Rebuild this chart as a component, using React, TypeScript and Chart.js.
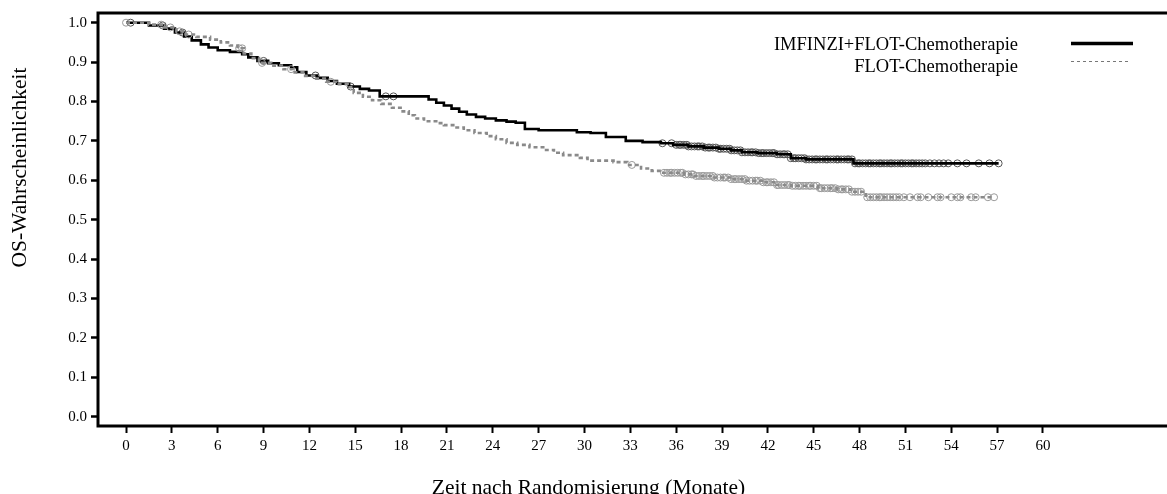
import React, { useEffect, useRef } from 'react';
import { Chart, registerables } from 'chart.js';

Chart.register(...registerables);

const X_TICKS = [0, 3, 6, 9, 12, 15, 18, 21, 24, 27, 30, 33, 36, 39, 42, 45, 48, 51, 54, 57, 60];
const Y_TICKS = [0, 0.1, 0.2, 0.3, 0.4, 0.5, 0.6, 0.7, 0.8, 0.9, 1.0];
const SERIES_NAMES = ['IMFINZI+FLOT-Chemotherapie', 'FLOT-Chemotherapie'];
const X_TITLE = 'Zeit nach Randomisierung (Monate)';
const Y_TITLE = 'OS-Wahrscheinlichkeit';

// IMFINZI + FLOT (solid black)
const IMF_TIMES = [0, 1.5, 2.5, 3.2, 3.8, 4.3, 4.9, 5.4, 6.0, 6.8, 7.6, 8.0, 8.6, 9.3, 10.0, 10.8, 11.2, 11.8, 12.5, 13.2, 13.8, 14.6, 15.3, 15.9, 16.6, 19.8, 20.3, 20.8, 21.3, 21.8, 22.3, 22.9, 23.5, 24.2, 24.9, 25.5, 26.1, 27.0, 29.5, 30.4, 31.4, 32.7, 33.8, 35.0, 35.8, 36.8, 37.8, 38.8, 39.6, 40.3, 41.3, 42.6, 43.5, 44.5, 47.6, 57.1];
const IMF_SURV = [1.0, 0.993, 0.985, 0.975, 0.965, 0.955, 0.945, 0.937, 0.930, 0.926, 0.920, 0.912, 0.903, 0.897, 0.892, 0.887, 0.875, 0.866, 0.860, 0.852, 0.845, 0.838, 0.832, 0.828, 0.813, 0.805, 0.797, 0.790, 0.782, 0.774, 0.767, 0.761, 0.757, 0.752, 0.749, 0.746, 0.730, 0.727, 0.722, 0.720, 0.710, 0.700, 0.697, 0.694, 0.690, 0.686, 0.683, 0.680, 0.676, 0.671, 0.669, 0.666, 0.656, 0.653, 0.643, 0.643];
const IMF_CENSOR = [0.3, 2.4, 3.7, 9.0, 12.4, 14.7, 17.0, 17.5, 35.1, 35.7, 36.0, 36.2, 36.3, 36.5, 36.7, 36.8, 37.0, 37.2, 37.4, 37.5, 37.7, 37.9, 38.1, 38.2, 38.4, 38.6, 38.8, 38.9, 39.1, 39.3, 39.5, 39.6, 39.8, 40.0, 40.2, 40.3, 40.5, 40.7, 40.9, 41.0, 41.2, 41.4, 41.6, 41.7, 41.9, 42.1, 42.3, 42.4, 42.6, 42.8, 43.0, 43.1, 43.3, 43.5, 43.7, 43.8, 44.0, 44.2, 44.4, 44.5, 44.7, 44.9, 45.1, 45.2, 45.4, 45.6, 45.8, 45.9, 46.1, 46.3, 46.5, 46.6, 46.8, 47.0, 47.2, 47.3, 47.5, 47.7, 47.9, 48.0, 48.2, 48.4, 48.6, 48.7, 48.9, 49.1, 49.3, 49.4, 49.6, 49.8, 50.0, 50.1, 50.3, 50.5, 50.7, 50.8, 51.0, 51.2, 51.4, 51.5, 51.7, 51.9, 52.1, 52.3, 52.6, 52.9, 53.2, 53.5, 53.8, 54.4, 55.0, 55.8, 56.5, 57.1];

// FLOT (dashed grey)
const FLOT_TIMES = [0, 1.5, 2.5, 3.3, 3.9, 4.6, 5.5, 6.2, 6.8, 7.3, 7.7, 8.2, 8.7, 9.5, 10.3, 10.9, 11.6, 12.3, 13.1, 13.8, 14.5, 14.9, 15.5, 16.1, 16.7, 17.4, 18.1, 18.5, 18.9, 19.5, 20.3, 20.8, 21.5, 22.1, 22.8, 23.6, 24.2, 24.9, 25.6, 26.4, 27.3, 28.0, 28.6, 29.7, 30.2, 31.9, 32.8, 33.7, 34.4, 35.0, 36.5, 37.2, 38.5, 39.6, 40.6, 41.7, 42.5, 43.5, 45.3, 46.5, 47.4, 48.4, 56.8];
const FLOT_SURV = [1.0, 0.995, 0.988, 0.978, 0.970, 0.964, 0.957, 0.950, 0.942, 0.935, 0.922, 0.910, 0.898, 0.891, 0.882, 0.874, 0.865, 0.858, 0.850, 0.844, 0.836, 0.822, 0.812, 0.803, 0.794, 0.784, 0.775, 0.765, 0.757, 0.750, 0.745, 0.740, 0.734, 0.727, 0.720, 0.712, 0.704, 0.695, 0.690, 0.684, 0.677, 0.670, 0.664, 0.657, 0.650, 0.646, 0.639, 0.630, 0.624, 0.619, 0.615, 0.611, 0.607, 0.603, 0.599, 0.595, 0.588, 0.586, 0.580, 0.577, 0.571, 0.557, 0.557];
const FLOT_CENSOR = [0, 2.3, 2.9, 3.5, 4.1, 7.4, 7.6, 8.9, 10.8, 13.4, 33.1, 35.2, 35.4, 35.6, 35.7, 35.9, 36.1, 36.3, 36.4, 36.6, 36.8, 37.0, 37.1, 37.3, 37.5, 37.7, 37.8, 38.0, 38.2, 38.4, 38.5, 38.7, 38.9, 39.1, 39.2, 39.4, 39.6, 39.8, 39.9, 40.1, 40.3, 40.5, 40.6, 40.8, 41.0, 41.2, 41.3, 41.5, 41.7, 41.9, 42.0, 42.2, 42.4, 42.6, 42.7, 42.9, 43.1, 43.3, 43.4, 43.6, 43.8, 44.0, 44.1, 44.3, 44.5, 44.7, 44.8, 45.0, 45.2, 45.4, 45.5, 45.7, 45.9, 46.1, 46.2, 46.4, 46.6, 46.8, 46.9, 47.1, 47.3, 47.5, 47.7, 47.9, 48.1, 48.5, 48.7, 48.9, 49.1, 49.3, 49.4, 49.6, 49.8, 50.0, 50.2, 50.4, 50.6, 50.9, 51.3, 51.8, 52.0, 52.5, 53.1, 53.3, 54.0, 54.4, 54.6, 55.3, 55.6, 56.4, 56.8];

const SERIF = "'Liberation Serif', 'Times New Roman', serif";

function stepAt(times: number[], surv: number[], t: number): number {
  let v = surv[0];
  for (let i = 0; i < times.length; i++) {
    if (times[i] <= t) v = surv[i];
  }
  return v;
}

const decorPlugin = {
  id: 'decor',
  afterDraw(chart: any) {
    const { ctx, chartArea } = chart;
    const { left, top, bottom } = chartArea;
    const W = chart.width;
    ctx.save();
    // frame (left, top, bottom)
    ctx.strokeStyle = '#000';
    ctx.lineWidth = 3;
    ctx.beginPath();
    ctx.moveTo(W + 5, top);
    ctx.lineTo(left, top);
    ctx.lineTo(left, bottom);
    ctx.lineTo(W + 5, bottom);
    ctx.stroke();

    // legend
    ctx.fillStyle = '#000';
    ctx.font = `18.5px ${SERIF}`;
    ctx.textAlign = 'right';
    ctx.textBaseline = 'alphabetic';
    ctx.fillText(SERIES_NAMES[0], 1018, 50);
    ctx.fillText(SERIES_NAMES[1], 1018, 72);
    ctx.lineWidth = 3.5;
    ctx.strokeStyle = '#000';
    ctx.beginPath();
    ctx.moveTo(1071, 43.5);
    ctx.lineTo(1133, 43.5);
    ctx.stroke();
    ctx.lineWidth = 1;
    ctx.strokeStyle = '#777';
    ctx.setLineDash([3, 3]);
    ctx.beginPath();
    ctx.moveTo(1071, 61.5);
    ctx.lineTo(1131, 61.5);
    ctx.stroke();
    ctx.setLineDash([]);

    // axis titles
    ctx.fillStyle = '#000';
    ctx.font = `21.5px ${SERIF}`;
    ctx.textAlign = 'center';
    ctx.textBaseline = 'alphabetic';
    ctx.fillText(X_TITLE, 588.5, 494);
    ctx.save();
    ctx.translate(26, 167.5);
    ctx.rotate(-Math.PI / 2);
    ctx.fillText(Y_TITLE, 0, 0);
    ctx.restore();
    ctx.restore();
  },
};

export default function App() {
  const ref = useRef<HTMLCanvasElement | null>(null);

  useEffect(() => {
    if (!ref.current) return;
    const imfLine = IMF_TIMES.map((t, i) => ({ x: t, y: IMF_SURV[i] }));
    const flotLine = FLOT_TIMES.map((t, i) => ({ x: t, y: FLOT_SURV[i] }));
    const imfCens = IMF_CENSOR.map((t) => ({ x: t, y: stepAt(IMF_TIMES, IMF_SURV, t) }));
    const flotCens = FLOT_CENSOR.map((t) => ({ x: t, y: stepAt(FLOT_TIMES, FLOT_SURV, t) }));

    const chart = new Chart(ref.current, {
      type: 'line',
      data: {
        datasets: [
          {
            label: SERIES_NAMES[1],
            data: flotLine,
            borderColor: '#8a8a8a',
            borderWidth: 2.6,
            borderDash: [4, 3],
            stepped: true,
            pointRadius: 0,
            fill: false,
          },
          {
            label: SERIES_NAMES[1] + ' zensiert',
            data: flotCens,
            showLine: false,
            pointStyle: 'circle',
            pointRadius: 3.5,
            pointBorderWidth: 1,
            pointBorderColor: '#9a9a9a',
            pointBackgroundColor: 'rgba(0,0,0,0)',
          },
          {
            label: SERIES_NAMES[0],
            data: imfLine,
            borderColor: '#000',
            borderWidth: 2.6,
            stepped: true,
            pointRadius: 0,
            fill: false,
          },
          {
            label: SERIES_NAMES[0] + ' zensiert',
            data: imfCens,
            showLine: false,
            pointStyle: 'circle',
            pointRadius: 3.5,
            pointBorderWidth: 1,
            pointBorderColor: '#555',
            pointBackgroundColor: 'rgba(0,0,0,0)',
          },
        ],
      },
      options: {
        responsive: false,
        animation: false,
        devicePixelRatio: 1,
        layout: { padding: { top: 13, right: 0, left: 0, bottom: 0 } },
        plugins: {
          legend: { display: false },
          tooltip: { enabled: false },
          title: { display: false },
        },
        scales: {
          x: {
            type: 'linear',
            min: -1.834,
            max: 67.79,
            afterFit: (s: any) => {
              s.height = 68;
            },
            afterBuildTicks: (s: any) => {
              s.ticks = X_TICKS.map((v) => ({ value: v }));
            },
            border: { display: false },
            grid: {
              drawOnChartArea: false,
              drawTicks: true,
              tickLength: 7,
              tickWidth: 2,
              tickColor: '#000',
            },
            ticks: {
              autoSkip: false,
              maxRotation: 0,
              padding: 4,
              color: '#000',
              font: { family: SERIF, size: 15 },
              callback: (v: any) => String(v),
            },
          },
          y: {
            type: 'linear',
            min: -0.0236,
            max: 1.0246,
            afterFit: (s: any) => {
              s.width = 98;
            },
            afterBuildTicks: (s: any) => {
              s.ticks = Y_TICKS.map((v) => ({ value: v }));
            },
            border: { display: false },
            grid: {
              drawOnChartArea: false,
              drawTicks: true,
              tickLength: 7,
              tickWidth: 2.5,
              tickColor: '#000',
            },
            ticks: {
              padding: 4,
              color: '#000',
              font: { family: SERIF, size: 15 },
              callback: (v: any) => Number(v).toFixed(1),
            },
          },
        },
      },
      plugins: [decorPlugin],
    });
    return () => chart.destroy();
  }, []);

  return (
    <div style={{ position: 'fixed', left: 0, top: 0, width: 1167, height: 494, background: '#fff', overflow: 'hidden' }}>
      <canvas ref={ref} width={1167} height={494} style={{ display: 'block', width: 1167, height: 494 }} />
    </div>
  );
}
